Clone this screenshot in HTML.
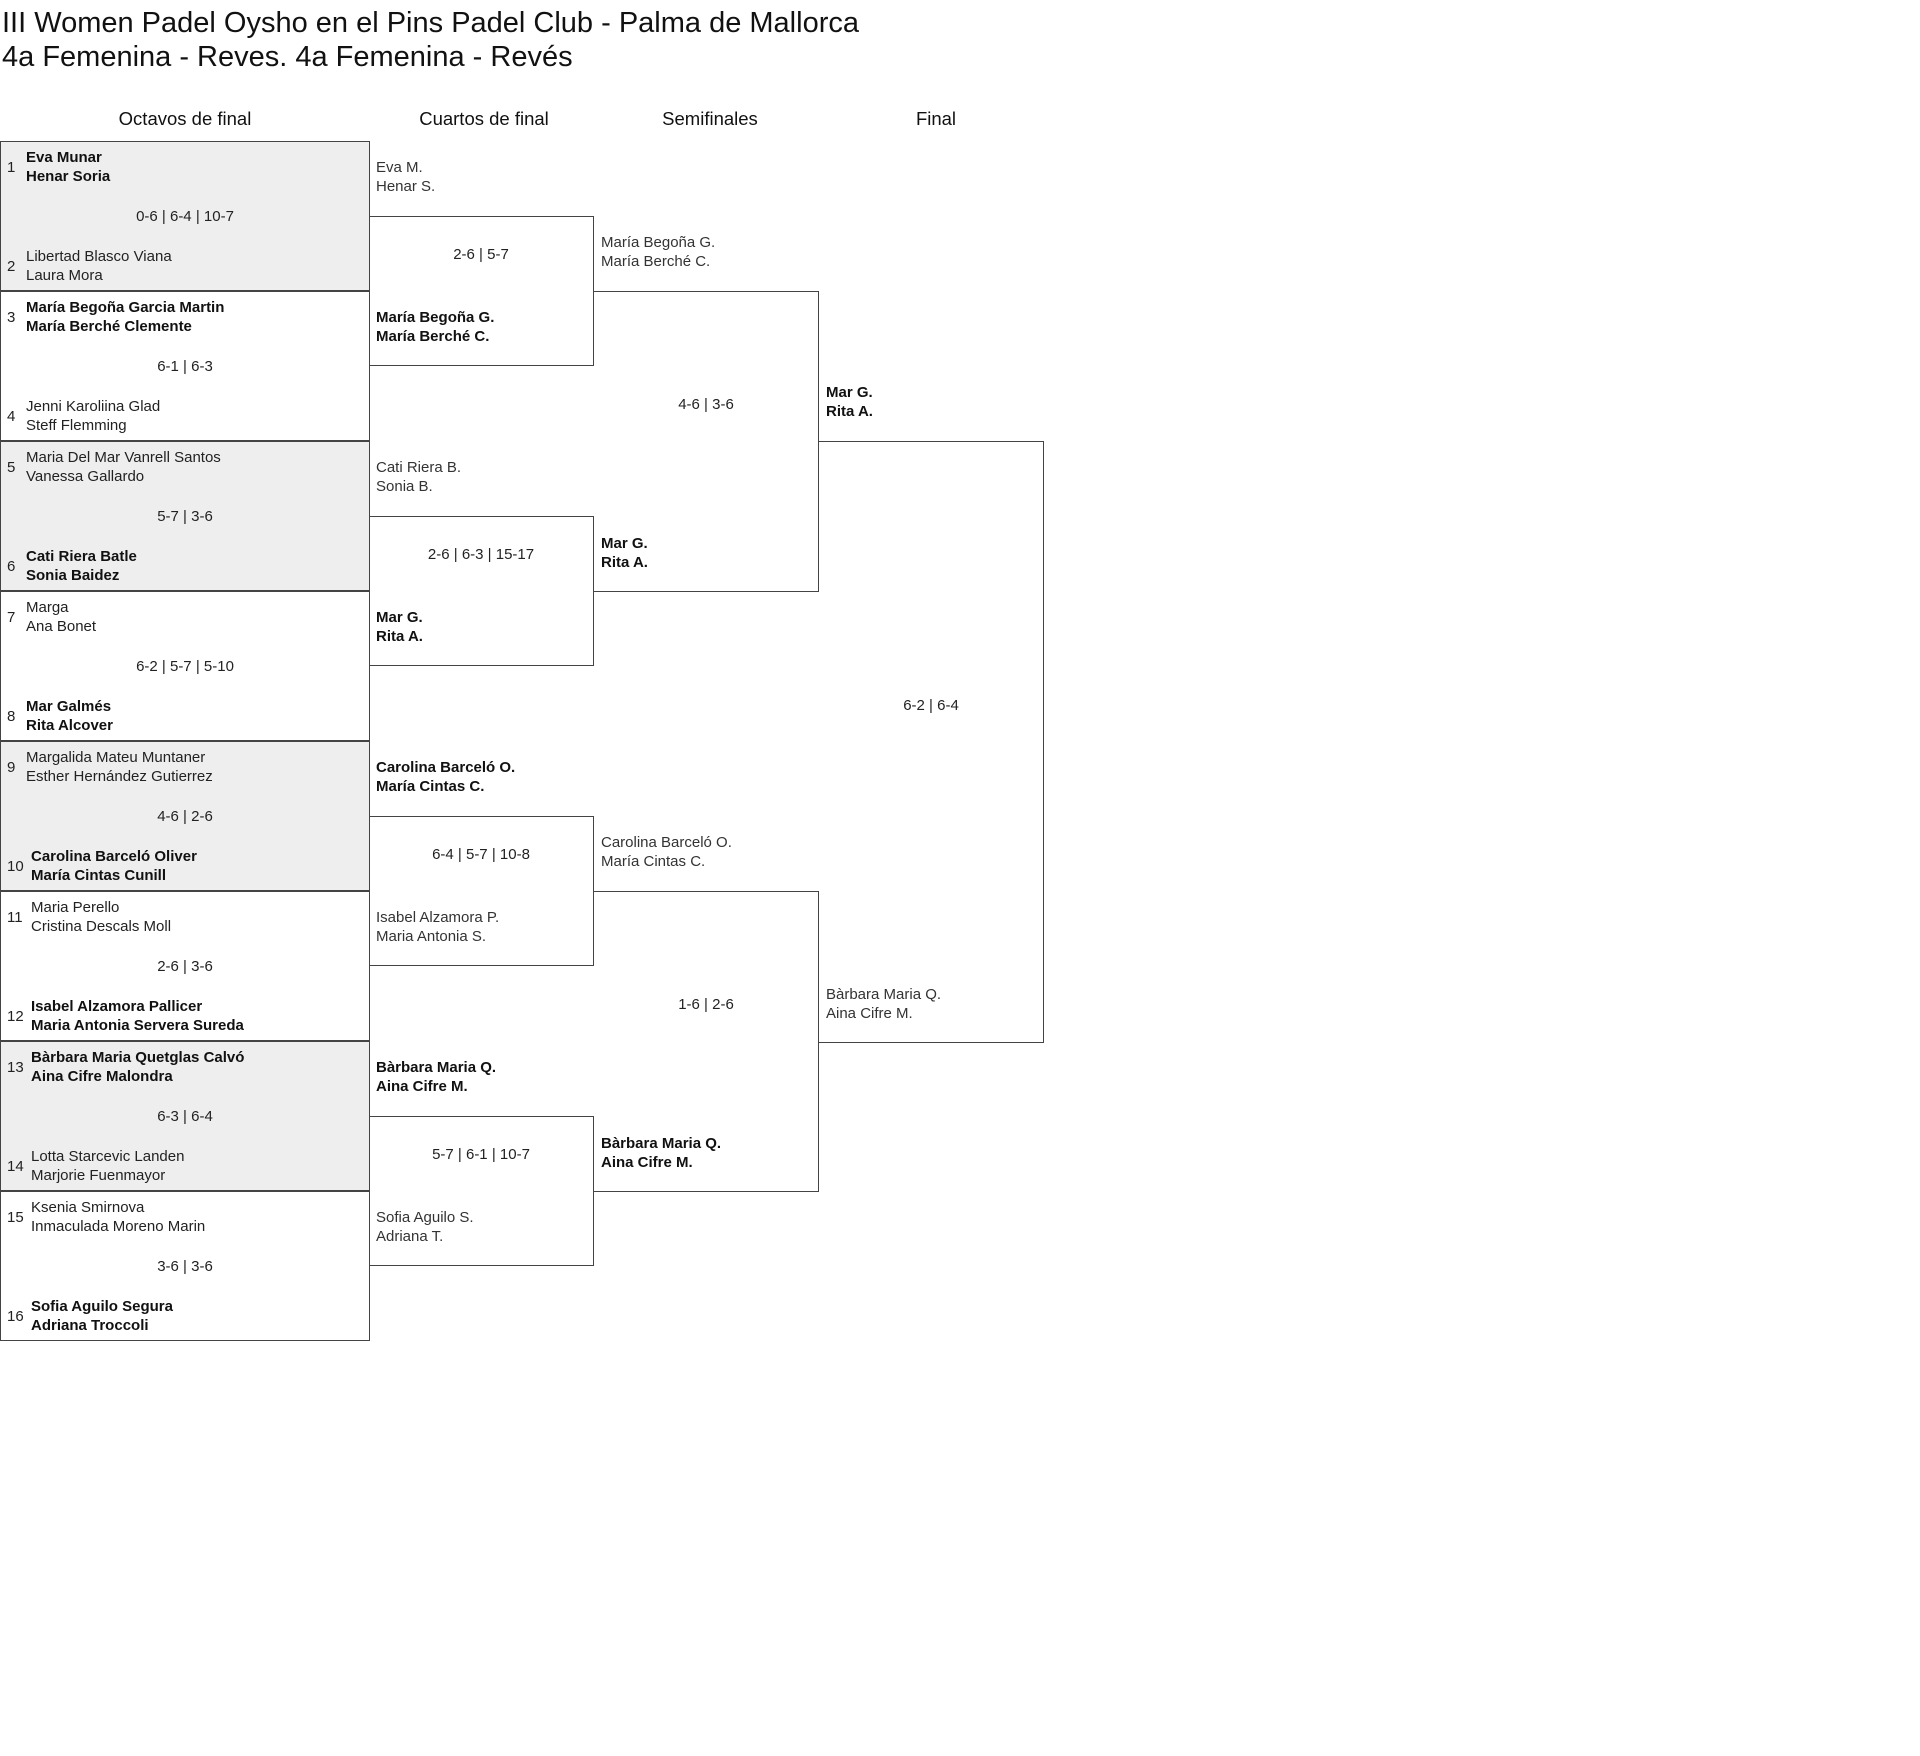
<!DOCTYPE html>
<html><head><meta charset="utf-8"><style>
body{margin:0;width:1920px;height:1756px;background:#fff;font-family:"Liberation Sans",sans-serif;color:#222;position:relative;overflow:hidden}
.t{position:absolute;left:2px;font-size:29px;line-height:34px;color:#111;white-space:nowrap}
.h{position:absolute;top:108px;font-size:18.5px;line-height:22px;text-align:center;width:300px;color:#111}
.m{position:absolute;left:0;width:370px;height:150px;border:1px solid #444;box-sizing:border-box}
.g{background:#eee}
.q{position:absolute;height:150px;border:1px solid #444;border-left:none;box-sizing:border-box}
.tm{position:absolute;left:6px;font-size:15px;line-height:19px;display:flex;align-items:center;white-space:nowrap}
.tm .n{width:14px;margin-right:5px;color:#222}
.s{position:absolute;left:0;right:0;text-align:center;font-size:15px;line-height:19px;color:#222}
.l{position:absolute;font-size:15px;line-height:19px;white-space:nowrap;color:#333}
.b{font-weight:bold;color:#111}
</style></head><body>
<div class="t" style="top:6px">III Women Padel Oysho en el Pins Padel Club - Palma de Mallorca</div>
<div class="t" style="top:40px">4a Femenina - Reves. 4a Femenina - Revés</div>
<div class="h" style="left:35px">Octavos de final</div>
<div class="h" style="left:334px">Cuartos de final</div>
<div class="h" style="left:560px">Semifinales</div>
<div class="h" style="left:786px">Final</div>

<div class="m g" style="top:141px"><div class="tm" style="top:6px"><span class="n">1</span><span class="b">Eva Munar<br>Henar Soria</span></div><div class="s" style="top:65px">0-6 | 6-4 | 10-7</div><div class="tm" style="top:105px"><span class="n">2</span><span>Libertad Blasco Viana<br>Laura Mora</span></div></div>
<div class="m" style="top:291px"><div class="tm" style="top:6px"><span class="n">3</span><span class="b">María Begoña Garcia Martin<br>María Berché Clemente</span></div><div class="s" style="top:65px">6-1 | 6-3</div><div class="tm" style="top:105px"><span class="n">4</span><span>Jenni Karoliina Glad<br>Steff Flemming</span></div></div>
<div class="m g" style="top:441px"><div class="tm" style="top:6px"><span class="n">5</span><span>Maria Del Mar Vanrell Santos<br>Vanessa Gallardo</span></div><div class="s" style="top:65px">5-7 | 3-6</div><div class="tm" style="top:105px"><span class="n">6</span><span class="b">Cati Riera Batle<br>Sonia Baidez</span></div></div>
<div class="m" style="top:591px"><div class="tm" style="top:6px"><span class="n">7</span><span>Marga<br>Ana Bonet</span></div><div class="s" style="top:65px">6-2 | 5-7 | 5-10</div><div class="tm" style="top:105px"><span class="n">8</span><span class="b">Mar Galmés<br>Rita Alcover</span></div></div>
<div class="m g" style="top:741px"><div class="tm" style="top:6px"><span class="n">9</span><span>Margalida Mateu Muntaner<br>Esther Hernández Gutierrez</span></div><div class="s" style="top:65px">4-6 | 2-6</div><div class="tm" style="top:105px"><span class="n" style="width:19px">10</span><span class="b">Carolina Barceló Oliver<br>María Cintas Cunill</span></div></div>
<div class="m" style="top:891px"><div class="tm" style="top:6px"><span class="n" style="width:19px">11</span><span>Maria Perello<br>Cristina Descals Moll</span></div><div class="s" style="top:65px">2-6 | 3-6</div><div class="tm" style="top:105px"><span class="n" style="width:19px">12</span><span class="b">Isabel Alzamora Pallicer<br>Maria Antonia Servera Sureda</span></div></div>
<div class="m g" style="top:1041px"><div class="tm" style="top:6px"><span class="n" style="width:19px">13</span><span class="b">Bàrbara Maria Quetglas Calvó<br>Aina Cifre Malondra</span></div><div class="s" style="top:65px">6-3 | 6-4</div><div class="tm" style="top:105px"><span class="n" style="width:19px">14</span><span>Lotta Starcevic Landen<br>Marjorie Fuenmayor</span></div></div>
<div class="m" style="top:1191px"><div class="tm" style="top:6px"><span class="n" style="width:19px">15</span><span>Ksenia Smirnova<br>Inmaculada Moreno Marin</span></div><div class="s" style="top:65px">3-6 | 3-6</div><div class="tm" style="top:105px"><span class="n" style="width:19px">16</span><span class="b">Sofia Aguilo Segura<br>Adriana Troccoli</span></div></div>

<!-- quarters -->
<div class="q" style="left:369px;width:225px;top:216px"><div class="s" style="top:28px">2-6 | 5-7</div></div>
<div class="q" style="left:369px;width:225px;top:516px"><div class="s" style="top:28px">2-6 | 6-3 | 15-17</div></div>
<div class="q" style="left:369px;width:225px;top:816px"><div class="s" style="top:28px">6-4 | 5-7 | 10-8</div></div>
<div class="q" style="left:369px;width:225px;top:1116px"><div class="s" style="top:28px">5-7 | 6-1 | 10-7</div></div>
<div class="l" style="left:376px;top:158px">Eva M.<br>Henar S.</div>
<div class="l b" style="left:376px;top:308px">María Begoña G.<br>María Berché C.</div>
<div class="l" style="left:376px;top:458px">Cati Riera B.<br>Sonia B.</div>
<div class="l b" style="left:376px;top:608px">Mar G.<br>Rita A.</div>
<div class="l b" style="left:376px;top:758px">Carolina Barceló O.<br>María Cintas C.</div>
<div class="l" style="left:376px;top:908px">Isabel Alzamora P.<br>Maria Antonia S.</div>
<div class="l b" style="left:376px;top:1058px">Bàrbara Maria Q.<br>Aina Cifre M.</div>
<div class="l" style="left:376px;top:1208px">Sofia Aguilo S.<br>Adriana T.</div>

<!-- semis -->
<div class="q" style="left:594px;width:225px;top:291px;height:301px"><div class="s" style="top:103px">4-6 | 3-6</div></div>
<div class="q" style="left:594px;width:225px;top:891px;height:301px"><div class="s" style="top:103px">1-6 | 2-6</div></div>
<div class="l" style="left:601px;top:233px">María Begoña G.<br>María Berché C.</div>
<div class="l b" style="left:601px;top:534px">Mar G.<br>Rita A.</div>
<div class="l" style="left:601px;top:833px">Carolina Barceló O.<br>María Cintas C.</div>
<div class="l b" style="left:601px;top:1134px">Bàrbara Maria Q.<br>Aina Cifre M.</div>

<!-- final -->
<div class="q" style="left:819px;width:225px;top:441px;height:602px"><div class="s" style="top:254px">6-2 | 6-4</div></div>
<div class="l b" style="left:826px;top:383px">Mar G.<br>Rita A.</div>
<div class="l" style="left:826px;top:985px">Bàrbara Maria Q.<br>Aina Cifre M.</div>
</body></html>
